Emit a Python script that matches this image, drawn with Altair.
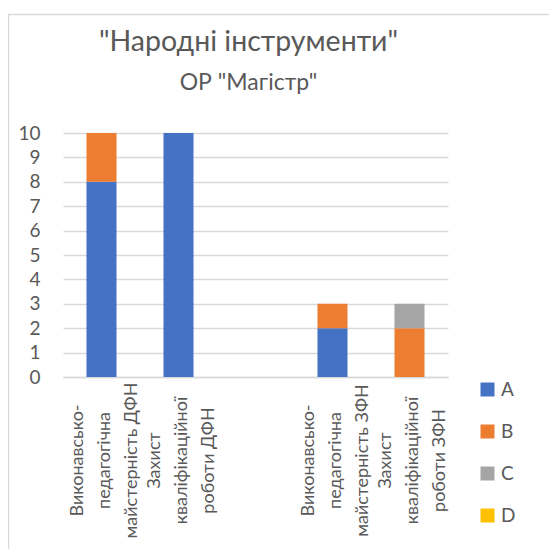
import altair as alt
import pandas as pd

categories = [
    "Виконавсько-\nпедагогічна\nмайстерність ДФН",
    "Захист\nкваліфікаційної\nроботи ДФН",
    " ",
    "Виконавсько-\nпедагогічна\nмайстерність ЗФН",
    "Захист\nкваліфікаційної\nроботи ЗФН",
]
series = ["A", "B", "C", "D"]
values_A = [8, 10, 0, 2, 0]
values_B = [2, 0, 0, 1, 2]
values_C = [0, 0, 0, 0, 1]
values_D = [0, 0, 0, 0, 0]
colors = ["#4472C4", "#ED7D31", "#A5A5A5", "#FFC000"]
y_ticks = list(range(0, 11))

rows = []
for si, (s, vals) in enumerate(zip(series, [values_A, values_B, values_C, values_D])):
    for c, v in zip(categories, vals):
        if v > 0:
            rows.append({"cat": c, "series": s, "val": v, "ord": si})
df = pd.DataFrame(rows)

FONT = "Lato"
TXT = "#595959"
GRID = "#d9d9d9"

bars = alt.Chart(df).mark_bar().encode(
    x=alt.X(
        "cat:N",
        title=None,
        scale=alt.Scale(domain=categories, paddingInner=0.61, paddingOuter=0.305),
        axis=alt.Axis(
            labelAngle=270,
            labelAlign="center",
            labelBaseline="middle",
            labelExpr="split(datum.label, '\\n')",
            labelLineHeight=27,
            labelFontSize=18,
            labelFont=FONT,
            labelColor=TXT,
            labelPadding=83,
            labelOffset=-24,
            labelLimit=0,
            labelOverlap=False,
            ticks=False,
            domainColor=GRID,
            domainWidth=1.5,
            grid=False,
        ),
    ),
    y=alt.Y(
        "val:Q",
        title=None,
        stack="zero",
        scale=alt.Scale(domain=[0, 10]),
        axis=alt.Axis(
            values=y_ticks,
            grid=True,
            gridColor=GRID,
            gridWidth=1.5,
            ticks=False,
            domain=False,
            labelPadding=23,
            labelFontSize=19,
            labelFont=FONT,
            labelColor=TXT,
        ),
    ),
    color=alt.Color(
        "series:N",
        scale=alt.Scale(domain=series, range=colors),
        legend=alt.Legend(
            title=None,
            orient="none",
            legendX=415,
            legendY=247,
            symbolType="square",
            symbolSize=196,
            symbolStrokeWidth=0,
            labelFontSize=19,
            labelFont=FONT,
            labelColor=TXT,
            labelOffset=4,
            rowPadding=22,
            padding=0,
        ),
    ),
    order=alt.Order("ord:Q", sort="ascending"),
)

frame_df = pd.DataFrame({"k": [0]})
frame = alt.Chart(frame_df).mark_rect(
    filled=False, stroke=GRID, strokeWidth=1.5, clip=False
).encode(
    x=alt.value(-54.5), x2=alt.value(700), y=alt.value(-118.5), y2=alt.value(700)
)

chart = alt.layer(frame, bars).properties(
    width=385,
    height=244,
    autosize=alt.AutoSizeParams(type="none"),
    padding={"left": 55, "top": 125, "right": 101, "bottom": 172},
    title=alt.TitleParams(
        text='"Народні інструменти"',
        subtitle='ОР "Магістр"',
        anchor="middle",
        frame="group",
        dx=-7,
        offset=-81,
        font=FONT,
        fontSize=28.5,
        fontWeight="normal",
        color=TXT,
        subtitleFont=FONT,
        subtitleFontSize=23,
        subtitleColor=TXT,
        subtitlePadding=15,
    ),
).configure_view(stroke=None)

chart.save("out.html", embed_options={"renderer": "svg", "actions": False})
